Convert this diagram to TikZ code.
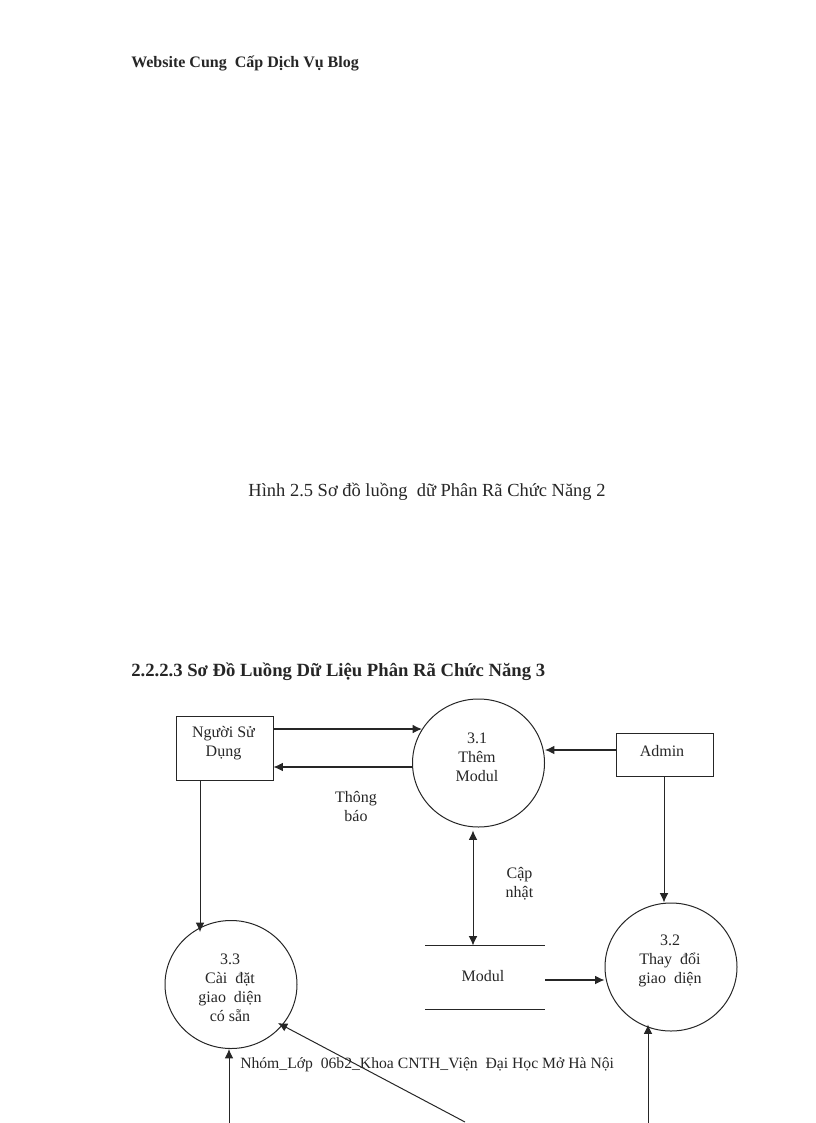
\documentclass[tikz,border=0pt]{standalone}
\usepackage{fontspec}
\setmainfont{Liberation Serif}
\usetikzlibrary{arrows.meta,shapes.geometric}
\tikzset{
  x=0.75pt,y=-0.75pt,
  ink/.style={draw=black!85,line width=0.75pt},
  procnode/.style={ink,ellipse,inner sep=0pt,minimum width=99pt,minimum height=96pt},
  entity/.style={ink,rectangle,inner sep=0pt},
  flow/.style={ink,-{Latex[length=7pt,width=6.5pt]}},
  hflow/.style={flow,line width=0.85pt},
  dualflow/.style={ink,{Latex[length=7pt,width=6.5pt]}-{Latex[length=7pt,width=6.5pt]}},
  lbl/.style={font=\fontsize{12}{14.25}\selectfont,align=center,inner sep=0pt,text=black!85},
  head/.style={anchor=west,inner sep=0pt,font=\bfseries\fontsize{12}{14}\selectfont,text=black!85},
}
\begin{document}
\begin{tikzpicture}
\useasboundingbox (0,0) rectangle (816,1123);
\node[head] (runhead) at (131,63.5) {Website Cung\ \ Cấp Dịch Vụ Blog};
\node[lbl,font=\fontsize{13.85}{16}\selectfont] (caption) at (427,491.5) {Hình 2.5 Sơ đồ luồng\ \ dữ Phân Rã Chức Năng 2};
\node[head,font=\bfseries\fontsize{14}{16}\selectfont] (section) at (131,671.5) {2.2.2.3 Sơ Đồ Luồng Dữ Liệu Phân Rã Chức Năng 3};

\node[entity,minimum width=72.75pt,minimum height=48pt] (user) at (224.5,748) {};
\node[entity,minimum width=72.75pt,minimum height=32.25pt] (admin) at (664.5,754.5) {};
\node[procnode] (p1) at (478.5,763) {};
\node[procnode] (p2) at (671,967) {};
\node[procnode] (p3) at (231,984.5) {};
\coordinate (storeTL) at (425,945.5);
\coordinate (storeTR) at (545,945.5);
\coordinate (storeBL) at (425,1009.5);
\coordinate (storeBR) at (545,1009.5);
\draw[ink] (storeTL) -- (storeTR);
\draw[ink] (storeBL) -- (storeBR);
\coordinate (bottomA) at (229,1123);
\coordinate (bottomB) at (465,1122);
\coordinate (bottomC) at (648,1123);
\coordinate (p3in) at (278,1023);
\coordinate (p2in) at (648,1024.5);

\node[lbl] (userT) at (223.5,743.5) {Người Sử\\Dụng};
\node[lbl] (adminT) at (662,751) {Admin};
\node[lbl] (p1T) at (477,757) {3.1\\Thêm\\Modul};
\node[lbl] (p2T) at (670,961) {3.2\\Thay\ \ đổi\\giao\ \ diện};
\node[lbl] (p3T) at (230,988) {3.3\\Cài\ \ đặt\\giao\ \ diện\\có sẵn};
\node[lbl] (storeT) at (483,976) {Modul};
\node[lbl] (notice) at (356,807) {Thông\\báo};
\node[lbl] (update) at (519.5,883.5) {Cập\\nhật};
\node[lbl,anchor=west,font=\fontsize{11.75}{14}\selectfont] (footer) at (240,1065) {Nhóm\_Lớp\ \ 06b2\_Khoa CNTH\_Viện\ \ Đại Học Mở Hà Nội};

\draw[hflow] (user.east |- p1.149) -- (p1.149);
\draw[hflow] (p1.west |- 0,767) -- (user.east |- 0,767);
\draw[hflow] (admin.west |- 0,750) -- (p1.east |- 0,750);
\draw[flow] (admin.south -| 664,0) -- (p2.north -| 664,0);
\draw[dualflow] (p1.south -| 473,0) ++(0,3) -- (storeTL -| 473,0);
\draw[hflow] (storeTR |- 0,980) -- (p2.west |- 0,980);
\draw[flow] (user.south -| 200,0) -- (200,932);
\draw[flow] (bottomA) -- (p3.south -| bottomA);
\draw[flow] (bottomB) -- (p3in);
\draw[flow] (bottomC) -- (p2in);
\end{tikzpicture}
\end{document}
